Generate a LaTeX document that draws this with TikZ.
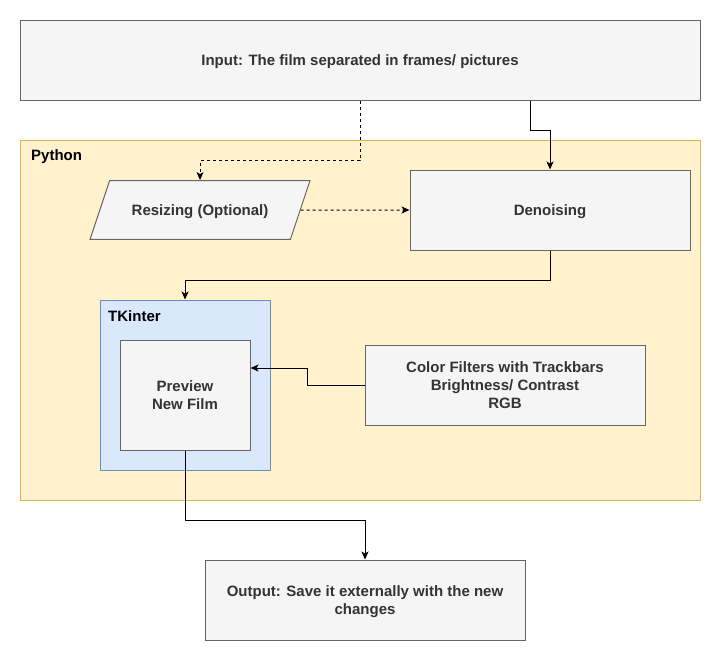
\documentclass[tikz,border=0pt]{standalone}
\usepackage{fontspec}
\setmainfont{Liberation Sans}
\usetikzlibrary{shapes.geometric,arrows.meta,positioning}
\definecolor{boxfill}{HTML}{F5F5F5}
\definecolor{boxline}{HTML}{666666}
\definecolor{boxtext}{HTML}{333333}
\definecolor{pyfill}{HTML}{FFF2CC}
\definecolor{pyline}{HTML}{D6B656}
\definecolor{tkfill}{HTML}{DAE8FC}
\definecolor{tkline}{HTML}{6C8EBF}
\tikzset{
  box/.style={draw=boxline,fill=boxfill,text=boxtext,line width=1pt,inner sep=0pt,
    align=center,text depth=0pt,font=\bfseries\fontsize{15}{18}\selectfont},
  group/.style={line width=1pt,inner sep=0pt},
  grouplabel/.style={anchor=west,inner sep=0pt,font=\bfseries\fontsize{15}{18}\selectfont},
  flow/.style={line width=1pt,-{Stealth[length=8pt,width=7pt,inset=2pt]}},
  dashflow/.style={flow,dash pattern=on 3pt off 3pt}
}
\begin{document}
\begin{tikzpicture}[x=1pt,y=-1pt]
\useasboundingbox (0,0) rectangle (722,662);
\node[box,minimum width=680,minimum height=80] (input) at (360,60) {Input: The film separated in frames/ pictures};
\node[group,draw=pyline,fill=pyfill,minimum width=680,minimum height=360] (python) at (360,320) {};
\node[grouplabel] (pylabel) at (31,157) {Python};
\node[box,trapezium,trapezium left angle=71.57,trapezium right angle=108.43,trapezium stretches body,
  text depth=0pt,inner ysep=24pt,minimum width=220] (resize) at (200,210) {Resizing (Optional)};
\node[box,minimum width=280,minimum height=80] (denoise) at (550,210) {Denoising};
\node[group,draw=tkline,fill=tkfill,minimum width=170,minimum height=170] (tk) at (185,385) {};
\node[grouplabel] (tklabel) at (108,316) {TKinter};
\node[box,minimum width=130,minimum height=110] (preview) at (185,395) {Preview\\New Film};
\node[box,minimum width=280,minimum height=80] (filters) at (505,385) {Color Filters with Trackbars\\Brightness/ Contrast\\RGB};
\node[box,minimum width=320,minimum height=80] (output) at (365,600) {Output: Save it externally with the new\\changes};

\draw[dashflow] (input.south) -- ++(0,60) -| (resize.north);
\draw[flow] ([xshift=170pt]input.south) -- ++(0,30) -| (denoise.north);
\draw[dashflow] (resize.east) -- (denoise.west);
\draw[flow] (denoise.south) -- ++(0,30) -| (tk.north);
\draw[flow] (filters.west) -- ++(-57,0) |- ([yshift=27pt]preview.east);
\draw[flow] (preview.south) -- ++(0,70) -| (output.north);
\end{tikzpicture}
\end{document}
